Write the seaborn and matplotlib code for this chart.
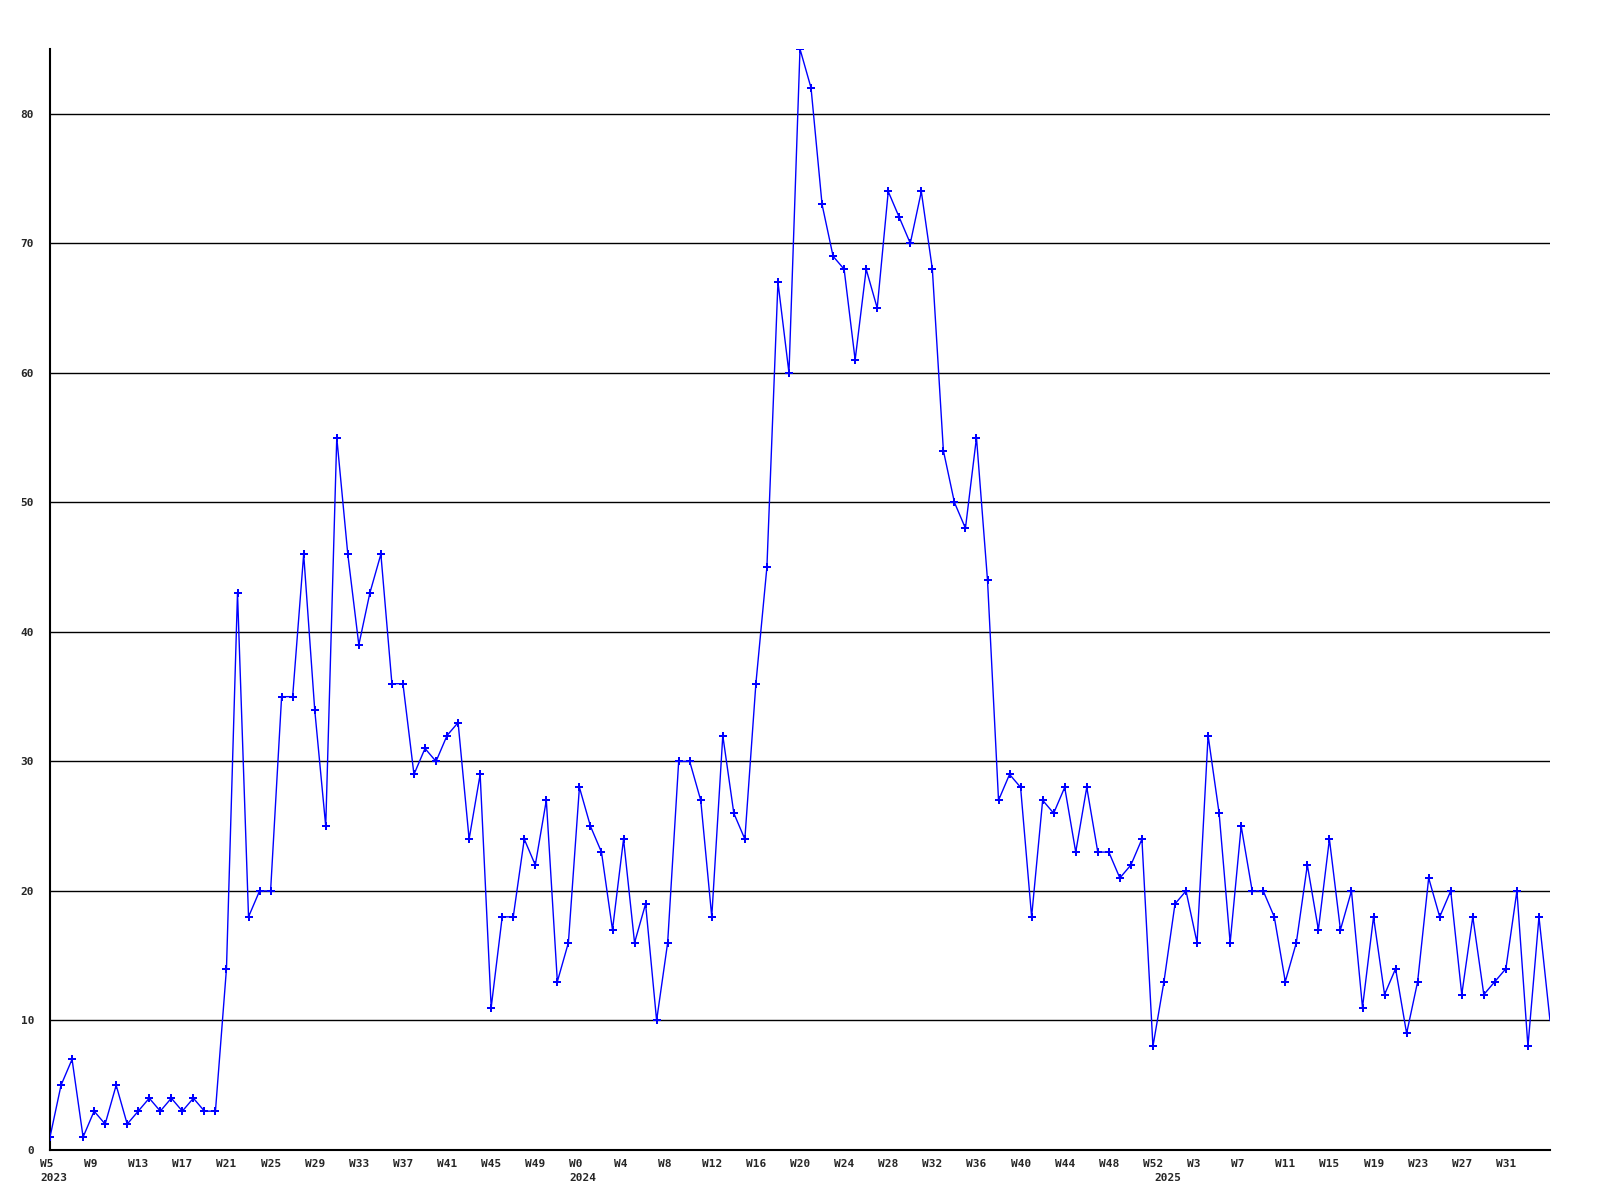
import matplotlib
matplotlib.use("Agg")
import matplotlib.pyplot as plt
import matplotlib.transforms as mtransforms
import seaborn as sns

# weekly counts, 2023 W5 .. 2025 W35
values = [
    1, 5, 7, 1, 3, 2, 5, 2, 3, 4, 3, 4, 3, 4, 3, 3, 14, 43, 18, 20,
    20, 35, 35, 46, 34, 25, 55, 46, 39, 43, 46, 36, 36, 29, 31, 30, 32, 33, 24, 29,
    11, 18, 18, 24, 22, 27, 13, 16, 28, 25, 23, 17, 24, 16, 19, 10, 16, 30, 30, 27,
    18, 32, 26, 24, 36, 45, 67, 60, 85, 82, 73, 69, 68, 61, 68, 65, 74, 72, 70, 74,
    68, 54, 50, 48, 55, 44, 27, 29, 28, 18, 27, 26, 28, 23, 28, 23, 23, 21, 22, 24,
    8, 13, 19, 20, 16, 32, 26, 16, 25, 20, 20, 18, 13, 16, 22, 17, 24, 17, 20, 11,
    18, 12, 14, 9, 13, 21, 18, 20, 12, 18, 12, 13, 14, 20, 8, 18, 10,
]
# (year, first week, number of weeks)
years = [("2023", 5, 48), ("2024", 0, 53), ("2025", 0, 36)]
y_ticks = [0, 10, 20, 30, 40, 50, 60, 70, 80]

week_labels = []
year_start = []
for year, first, count in years:
    year_start.append((len(week_labels), year))
    week_labels += [f"W{w}" for w in range(first, first + count)]
x = list(range(len(values)))

sns.set_style("white")
plt.rcParams["font.family"] = ["DejaVu Sans Mono"]
plt.rcParams["font.weight"] = "bold"

fig = plt.figure(figsize=(16, 12), dpi=100)
ax = fig.add_axes([50 / 1600, 50 / 1200, 1500 / 1600, 1101 / 1200])

for t in y_ticks[1:]:
    ax.axhline(t, color="black", lw=1.0, zorder=1)

sns.lineplot(x=x, y=values, ax=ax, color="#0000ff", lw=1.0, marker="P",
             markersize=6, markeredgewidth=0, markevery=list(range(len(values) - 1)),
             zorder=3)

ax.set_xlim(0, len(values) - 1)
ax.set_ylim(0, 85)
ax.set_xlabel("")
ax.set_ylabel("")

ax.set_yticks(y_ticks)
ax.set_yticklabels([str(t) for t in y_ticks], fontsize=8, fontweight="bold")
tick_pos = x[:-1:4]
ax.set_xticks(tick_pos)
ax.set_xticklabels([])
ax.tick_params(axis="both", length=0)
ax.tick_params(axis="y", pad=11.5)

# labels start a little left of their week
shift = mtransforms.ScaledTranslation(-10 / 100, 0, fig.dpi_scale_trans)
trans = mtransforms.blended_transform_factory(ax.transData, ax.transAxes) + shift
for i in tick_pos:
    ax.text(i, -0.008, week_labels[i], transform=trans, fontsize=8,
            fontweight="bold", ha="left", va="top")
for pos, year in year_start:
    ax.text(pos, -0.021, year, transform=trans, fontsize=8, fontweight="bold",
            ha="left", va="top")

sns.despine(ax=ax, top=True, right=True)
for side in ["left", "bottom"]:
    ax.spines[side].set_color("black")
    ax.spines[side].set_linewidth(1.5)

fig.savefig("out.png", dpi=100)
